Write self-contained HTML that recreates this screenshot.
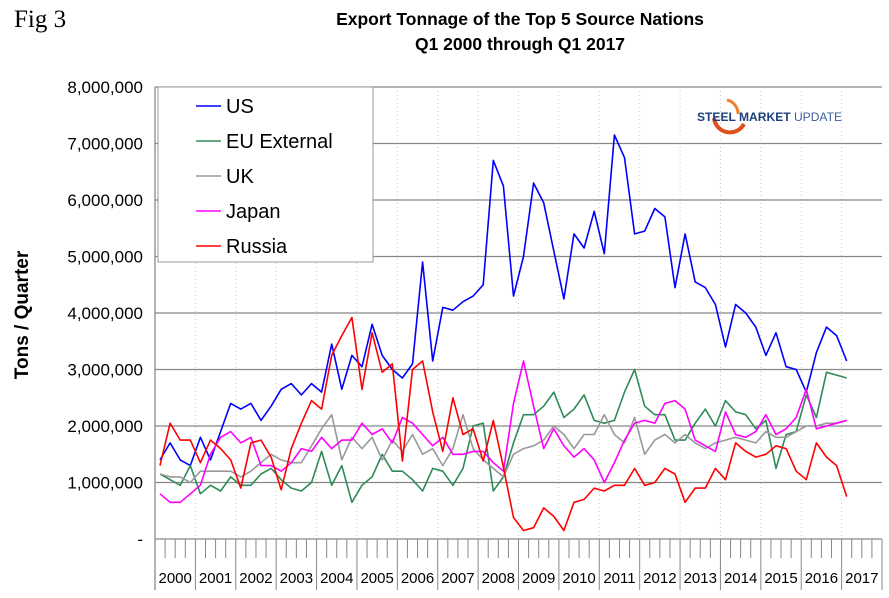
<!DOCTYPE html>
<html><head><meta charset="utf-8"><style>
body{margin:0;background:#fff;}
svg text{font-family:"Liberation Sans",Arial,sans-serif;}
</style></head><body>
<svg id="chart" width="889" height="593" viewBox="0 0 889 593" xmlns="http://www.w3.org/2000/svg">
<text x="14" y="27" font-family="Liberation Serif" style="font-family:'Liberation Serif',serif" font-size="25">Fig 3</text>
<text x="520" y="25" text-anchor="middle" font-size="17.5" font-weight="bold">Export Tonnage of the Top 5 Source Nations</text>
<text x="520" y="50" text-anchor="middle" font-size="17.5" font-weight="bold">Q1 2000 through Q1 2017</text>
<text transform="translate(28,315) rotate(-90)" text-anchor="middle" font-size="19" font-weight="bold">Tons / Quarter</text>
<g id="grid"></g>
<g id="yticks"></g>
<g id="xaxis"></g>
<g id="series"></g>
<g>
<path d="M714,118 A16,16 0 0 0 744,124" fill="none" stroke="#e0501c" stroke-width="4"/>
<path d="M727,100 A14,14 0 0 1 738,114" fill="none" stroke="#f08030" stroke-width="3"/>
<text x="697" y="121" font-size="12" font-weight="bold" fill="#1d3f7a" textLength="145" lengthAdjust="spacingAndGlyphs">STEEL MARKET <tspan font-weight="normal" fill="#3d5f9a">UPDATE</tspan></text>
</g>
<g>
<rect x="158" y="87" width="215" height="175" fill="#fff" stroke="#999" stroke-width="1"/>
<g id="legend"></g>
</g>
</svg>
<script>
const NS="http://www.w3.org/2000/svg";
const yTicks=[0,1000000,2000000,3000000,4000000,5000000,6000000,7000000,8000000];
const yTickLabels=["-","1,000,000","2,000,000","3,000,000","4,000,000","5,000,000","6,000,000","7,000,000","8,000,000"];
const years=["2000","2001","2002","2003","2004","2005","2006","2007","2008","2009","2010","2011","2012","2013","2014","2015","2016","2017"];
const seriesNames=["US","EU External","UK","Japan","Russia"];
const seriesColors=["#0000ff","#2e8b57","#999999","#ff00ff","#ff0000"];
const usM=[1.4,1.7,1.4,1.3, 1.8,1.4,1.9,2.4, 2.3,2.4,2.1,2.35, 2.65,2.75,2.55,2.75, 2.6,3.45,2.65,3.25, 3.05,3.8,3.25,3.0, 2.85,3.1,4.9,3.15, 4.1,4.05,4.2,4.3, 4.5,6.7,6.25,4.3, 5.0,6.3,5.95,5.1, 4.25,5.4,5.15,5.8, 5.05,7.15,6.75,5.4, 5.45,5.85,5.7,4.45, 5.4,4.55,4.45,4.15, 3.4,4.15,4.0,3.75, 3.25,3.65,3.05,3.0, 2.6,3.3,3.75,3.6, 3.15];
const euM=[1.15,1.05,0.95,1.3, 0.8,0.95,0.85,1.1, 0.95,0.95,1.15,1.25, 1.05,0.9,0.85,1.0, 1.55,0.95,1.3,0.65, 0.95,1.1,1.5,1.2, 1.2,1.05,0.85,1.25, 1.2,0.95,1.25,2.0, 2.05,0.85,1.1,1.7, 2.2,2.2,2.35,2.6, 2.15,2.3,2.55,2.1, 2.05,2.1,2.6,3.0, 2.35,2.2,2.2,1.75, 1.75,2.05,2.3,2.0, 2.45,2.25,2.2,1.95, 2.1,1.25,1.85,1.9, 2.55,2.15,2.95,2.9, 2.85];
const ukM=[1.15,1.1,1.1,1.0, 1.2,1.2,1.2,1.2, 1.1,1.2,1.35,1.5, 1.4,1.35,1.35,1.65, 1.95,2.2,1.4,1.8, 1.6,1.8,1.4,1.75, 1.55,1.85,1.5,1.6, 1.3,1.6,2.2,1.6, 1.4,1.25,1.1,1.5, 1.6,1.65,1.75,2.0, 1.85,1.6,1.85,1.85, 2.2,1.85,1.7,2.15, 1.5,1.75,1.85,1.7, 1.85,1.7,1.6,1.7, 1.75,1.8,1.75,1.7, 1.9,1.8,1.8,1.9, 2.0,2.0,2.05,2.05, 2.1];
const jpM=[0.8,0.65,0.65,0.8, 0.95,1.5,1.8,1.9, 1.7,1.8,1.3,1.3, 1.2,1.35,1.6,1.55, 1.8,1.6,1.75,1.75, 2.05,1.85,1.95,1.7, 2.15,2.05,1.85,1.65, 1.8,1.5,1.5,1.55, 1.55,1.35,1.2,2.4, 3.15,2.35,1.6,1.95, 1.65,1.45,1.6,1.4, 1.0,1.35,1.75,2.05, 2.1,2.05,2.4,2.45, 2.3,1.75,1.65,1.55, 2.25,1.85,1.8,1.9, 2.2,1.85,1.95,2.15, 2.65,1.95,2.0,2.05, 2.1];
const ruM=[1.3,2.05,1.75,1.75, 1.35,1.75,1.6,1.4, 0.9,1.7,1.75,1.45, 0.87,1.6,2.05,2.45, 2.3,3.25,3.6,3.92, 2.65,3.65,2.95,3.1, 1.38,3.0,3.15,2.25, 1.55,2.5,1.85,1.95, 1.38,2.1,1.27,0.38, 0.15,0.2,0.55,0.4, 0.15,0.65,0.7,0.9, 0.85,0.95,0.95,1.25, 0.95,1.0,1.25,1.15, 0.65,0.9,0.9,1.25, 1.05,1.7,1.55,1.45, 1.5,1.65,1.6,1.2, 1.05,1.7,1.45,1.3, 0.75];
const seriesData=[usM,euM,ukM,jpM,ruM].map(a=>a.map(v=>v*1000000));

const X0=155,X1=882,YTOP=87,YBOT=539,YMAX=8000000;
const slot=(X1-X0)/(years.length*4);
function xq(i){return X0+slot/2+i*slot;}
function yv(v){return YBOT-(v/YMAX)*(YBOT-YTOP);}
function mk(tag,attrs,parent){const e=document.createElementNS(NS,tag);for(const k in attrs)e.setAttribute(k,attrs[k]);parent.appendChild(e);return e;}

const grid=document.getElementById('grid');
years.forEach((y,k)=>{
  const l=mk('line',{x1:X0+k*slot*4,x2:X0+k*slot*4,y1:YTOP,y2:YBOT,stroke:'#ccc','stroke-dasharray':'1,3'},grid);
  
  
});
const yt=document.getElementById('yticks');
yTicks.forEach((v,i)=>{
  const l=mk('line',{x1:X0,x2:X1,y1:yv(v),y2:yv(v),stroke:'#888','stroke-width':1.3},grid);
  
  
  const t=mk('text',{x:143,y:yv(v)+6,'text-anchor':'end','font-size':17},yt);
  t.textContent=yTickLabels[i];
  
  
});
const ax=document.getElementById('xaxis');
mk('line',{x1:X0,x2:X0,y1:YTOP,y2:590,stroke:'#888','stroke-width':1.3},ax);
for(let i=0;i<=years.length*4;i++){
  const x=X0+i*slot;
  const l=mk('line',{x1:x,x2:x,y1:YBOT,y2:(i%4===0)?590:558,stroke:'#888','stroke-width':1},ax);
  
  
}
years.forEach((y,k)=>{
  const t=mk('text',{x:X0+k*slot*4+slot*2,y:583,'text-anchor':'middle','font-size':15},ax);
  t.textContent=y;
  
  
});
const sg=document.getElementById('series');
seriesData.forEach((arr,s)=>{
  const p=mk('polyline',{points:arr.map((v,i)=>xq(i).toFixed(1)+','+yv(v).toFixed(1)).join(' '),fill:'none',stroke:seriesColors[s],'stroke-width':1.6,'stroke-linejoin':'round'},sg);
  
  
});
const lg=document.getElementById('legend');
seriesNames.forEach((n,s)=>{
  const y=106+s*35;
  const g=mk('g',{},lg);
  
  
  mk('line',{x1:196,x2:221,y1:y,y2:y,stroke:seriesColors[s],'stroke-width':1.6},g);
  const t=mk('text',{x:226,y:y+7,'font-size':20},g);
  t.textContent=n;
});
</script>
</body></html>
